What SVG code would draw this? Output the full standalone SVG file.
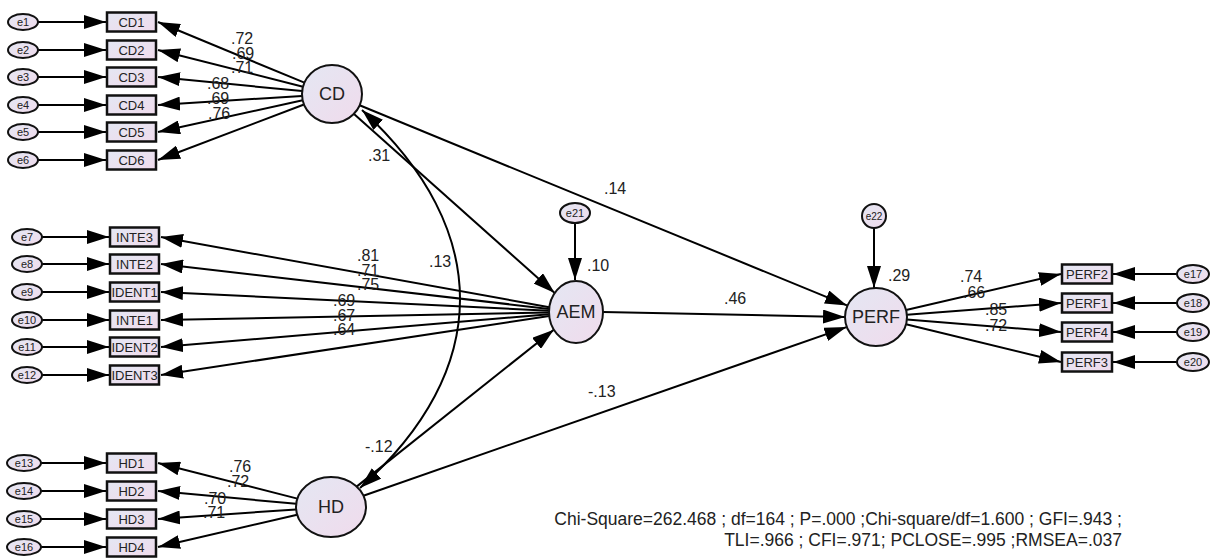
<svg xmlns="http://www.w3.org/2000/svg" width="1230" height="560" viewBox="0 0 1230 560">
<defs>
<linearGradient id="g" x1="0" y1="0" x2="1" y2="1">
<stop offset="0" stop-color="#e4e7f3"/>
<stop offset="1" stop-color="#f0dbec"/>
</linearGradient>
<marker id="ah" markerUnits="userSpaceOnUse" markerWidth="22" markerHeight="14" refX="22" refY="7" orient="auto-start-reverse">
<path d="M0,0 L22,7 L0,14 z" fill="#000"/>
</marker>
</defs>
<style>
.c line,.c path{stroke:#000;stroke-width:2;fill:none;marker-end:url(#ah)}
.c path.cov{marker-start:url(#ah)}
.lat{fill:url(#g);stroke:#111;stroke-width:2}
.err{fill:url(#g);stroke:#111;stroke-width:2}
.box{fill:url(#g);stroke:#111;stroke-width:2.5}
text{font-family:"Liberation Sans",Arial,sans-serif;fill:#222}
.lt{font-size:18px;text-anchor:middle;dominant-baseline:central}
.bt{font-size:13px;text-anchor:middle;dominant-baseline:central}
.et{font-size:11px;text-anchor:middle;dominant-baseline:central}
.lb{font-size:16px}
.fit{font-size:17.5px;text-anchor:end}
</style>
<rect width="1230" height="560" fill="#fff"/>

<g class="c" id="connectors">
<line x1="38" y1="22" x2="106" y2="22"/>
<line x1="38" y1="50" x2="106" y2="50"/>
<line x1="38" y1="77" x2="106" y2="77"/>
<line x1="38" y1="105" x2="106" y2="105"/>
<line x1="38" y1="132" x2="106" y2="132"/>
<line x1="38" y1="160" x2="106" y2="160"/>
<line x1="304.4" y1="82.7" x2="158" y2="22"/>
<line x1="303" y1="86.7" x2="158" y2="50"/>
<line x1="302.1" y1="91.1" x2="158" y2="77"/>
<line x1="302" y1="95.9" x2="158" y2="105"/>
<line x1="302.7" y1="100.3" x2="158" y2="132"/>
<line x1="304" y1="104.5" x2="158" y2="160"/>
<line x1="42" y1="237" x2="109" y2="237"/>
<line x1="42" y1="264" x2="109" y2="264"/>
<line x1="42" y1="292" x2="109" y2="292"/>
<line x1="42" y1="320" x2="109" y2="320"/>
<line x1="42" y1="347" x2="109" y2="347"/>
<line x1="42" y1="375" x2="109" y2="375"/>
<line x1="549.3" y1="307.2" x2="161" y2="237"/>
<line x1="549.1" y1="308.9" x2="161" y2="264"/>
<line x1="549" y1="310.7" x2="161" y2="292"/>
<line x1="549" y1="312.5" x2="161" y2="320"/>
<line x1="549.1" y1="314.3" x2="161" y2="347"/>
<line x1="549.2" y1="316" x2="161" y2="375"/>
<line x1="41" y1="463" x2="106" y2="463"/>
<line x1="41" y1="491" x2="106" y2="491"/>
<line x1="41" y1="519" x2="106" y2="519"/>
<line x1="41" y1="547" x2="106" y2="547"/>
<line x1="297.4" y1="498.6" x2="158" y2="463"/>
<line x1="296.2" y1="503.8" x2="158" y2="491"/>
<line x1="296.1" y1="509.4" x2="158" y2="519"/>
<line x1="297.2" y1="514.7" x2="158" y2="547"/>
<line x1="906.1" y1="310" x2="1061" y2="274"/>
<line x1="906.9" y1="314.7" x2="1061" y2="303"/>
<line x1="906.9" y1="319.5" x2="1061" y2="332"/>
<line x1="906" y1="324.3" x2="1061" y2="362"/>
<line x1="1177" y1="274" x2="1113" y2="274"/>
<line x1="1177" y1="303" x2="1113" y2="303"/>
<line x1="1177" y1="332" x2="1113" y2="332"/>
<line x1="1177" y1="362" x2="1113" y2="362"/>
<line x1="575" y1="223" x2="575" y2="280"/>
<line x1="874" y1="228" x2="874" y2="288"/>
<line x1="354" y1="114" x2="554.7" y2="293"/>
<line x1="359.6" y1="105.3" x2="847" y2="305.4"/>
<line x1="603" y1="312" x2="845" y2="317"/>
<line x1="356.6" y1="486.6" x2="553.8" y2="329.7"/>
<line x1="363.4" y1="495.7" x2="846.5" y2="327.1"/>
<path class="cov" d="M362,110 C493,230 493,370 360,488"/>
</g>

<g id="CD"><ellipse class="lat" cx="332" cy="94" rx="30" ry="29"/><text class="lt" x="332" y="94">CD</text></g>
<g id="AEM"><ellipse class="lat" cx="576" cy="312" rx="27" ry="31"/><text class="lt" x="576" y="312">AEM</text></g>
<g id="HD"><ellipse class="lat" cx="331" cy="507" rx="35" ry="30"/><text class="lt" x="331" y="507">HD</text></g>
<g id="PERF"><ellipse class="lat" cx="876" cy="317" rx="31" ry="29"/><text class="lt" x="876" y="317">PERF</text></g>
<g id="e21"><ellipse class="err" cx="575" cy="213" rx="15" ry="10"/><text class="et" x="575" y="213">e21</text></g>
<g id="e22"><ellipse class="err" cx="874" cy="216" rx="12" ry="12"/><text class="et" x="874" y="216" style="font-size:10px">e22</text></g>

<g id="CD1"><rect class="box" x="107" y="12.5" width="49" height="19"/><text class="bt" x="131.5" y="22">CD1</text></g>
<g id="CD2"><rect class="box" x="107" y="40.5" width="49" height="19"/><text class="bt" x="131.5" y="50">CD2</text></g>
<g id="CD3"><rect class="box" x="107" y="67.5" width="49" height="19"/><text class="bt" x="131.5" y="77">CD3</text></g>
<g id="CD4"><rect class="box" x="107" y="95.5" width="49" height="19"/><text class="bt" x="131.5" y="105">CD4</text></g>
<g id="CD5"><rect class="box" x="107" y="122.5" width="49" height="19"/><text class="bt" x="131.5" y="132">CD5</text></g>
<g id="CD6"><rect class="box" x="107" y="150.5" width="49" height="19"/><text class="bt" x="131.5" y="160">CD6</text></g>

<g id="e1"><ellipse class="err" cx="23" cy="22" rx="15" ry="8"/><text class="et" x="23" y="22">e1</text></g>
<g id="e2"><ellipse class="err" cx="23" cy="50" rx="15" ry="8"/><text class="et" x="23" y="50">e2</text></g>
<g id="e3"><ellipse class="err" cx="23" cy="77" rx="15" ry="8"/><text class="et" x="23" y="77">e3</text></g>
<g id="e4"><ellipse class="err" cx="23" cy="105" rx="15" ry="8"/><text class="et" x="23" y="105">e4</text></g>
<g id="e5"><ellipse class="err" cx="23" cy="132" rx="15" ry="8"/><text class="et" x="23" y="132">e5</text></g>
<g id="e6"><ellipse class="err" cx="23" cy="160" rx="15" ry="8"/><text class="et" x="23" y="160">e6</text></g>

<g id="INTE3"><rect class="box" x="110" y="227.5" width="49" height="19"/><text class="bt" x="134.5" y="237">INTE3</text></g>
<g id="INTE2"><rect class="box" x="110" y="254.5" width="49" height="19"/><text class="bt" x="134.5" y="264">INTE2</text></g>
<g id="IDENT1"><rect class="box" x="110" y="282.5" width="49" height="19"/><text class="bt" x="134.5" y="292">IDENT1</text></g>
<g id="INTE1"><rect class="box" x="110" y="310.5" width="49" height="19"/><text class="bt" x="134.5" y="320">INTE1</text></g>
<g id="IDENT2"><rect class="box" x="110" y="337.5" width="49" height="19"/><text class="bt" x="134.5" y="347">IDENT2</text></g>
<g id="IDENT3"><rect class="box" x="110" y="365.5" width="49" height="19"/><text class="bt" x="134.5" y="375">IDENT3</text></g>

<g id="e7"><ellipse class="err" cx="27" cy="237" rx="15" ry="8"/><text class="et" x="27" y="237">e7</text></g>
<g id="e8"><ellipse class="err" cx="27" cy="264" rx="15" ry="8"/><text class="et" x="27" y="264">e8</text></g>
<g id="e9"><ellipse class="err" cx="27" cy="292" rx="15" ry="8"/><text class="et" x="27" y="292">e9</text></g>
<g id="e10"><ellipse class="err" cx="27" cy="320" rx="15" ry="8"/><text class="et" x="27" y="320">e10</text></g>
<g id="e11"><ellipse class="err" cx="27" cy="347" rx="15" ry="8"/><text class="et" x="27" y="347">e11</text></g>
<g id="e12"><ellipse class="err" cx="27" cy="375" rx="15" ry="8"/><text class="et" x="27" y="375">e12</text></g>

<g id="HD1"><rect class="box" x="107" y="453.5" width="49" height="19"/><text class="bt" x="131.5" y="463">HD1</text></g>
<g id="HD2"><rect class="box" x="107" y="481.5" width="49" height="19"/><text class="bt" x="131.5" y="491">HD2</text></g>
<g id="HD3"><rect class="box" x="107" y="509.5" width="49" height="19"/><text class="bt" x="131.5" y="519">HD3</text></g>
<g id="HD4"><rect class="box" x="107" y="537.5" width="49" height="19"/><text class="bt" x="131.5" y="547">HD4</text></g>

<g id="e13"><ellipse class="err" cx="24" cy="463" rx="17" ry="8"/><text class="et" x="24" y="463">e13</text></g>
<g id="e14"><ellipse class="err" cx="24" cy="491" rx="17" ry="8"/><text class="et" x="24" y="491">e14</text></g>
<g id="e15"><ellipse class="err" cx="24" cy="519" rx="17" ry="8"/><text class="et" x="24" y="519">e15</text></g>
<g id="e16"><ellipse class="err" cx="24" cy="547" rx="17" ry="8"/><text class="et" x="24" y="547">e16</text></g>

<g id="PERF2"><rect class="box" x="1062" y="264.5" width="50" height="19"/><text class="bt" x="1087" y="274">PERF2</text></g>
<g id="PERF1"><rect class="box" x="1062" y="293.5" width="50" height="19"/><text class="bt" x="1087" y="303">PERF1</text></g>
<g id="PERF4"><rect class="box" x="1062" y="322.5" width="50" height="19"/><text class="bt" x="1087" y="332">PERF4</text></g>
<g id="PERF3"><rect class="box" x="1062" y="352.5" width="50" height="19"/><text class="bt" x="1087" y="362">PERF3</text></g>

<g id="e17"><ellipse class="err" cx="1193" cy="274" rx="16" ry="9"/><text class="et" x="1193" y="274">e17</text></g>
<g id="e18"><ellipse class="err" cx="1193" cy="303" rx="16" ry="9"/><text class="et" x="1193" y="303">e18</text></g>
<g id="e19"><ellipse class="err" cx="1193" cy="332" rx="16" ry="9"/><text class="et" x="1193" y="332">e19</text></g>
<g id="e20"><ellipse class="err" cx="1193" cy="362" rx="16" ry="9"/><text class="et" x="1193" y="362">e20</text></g>

<g id="labels">
<text class="lb" x="231" y="44">.72</text>
<text class="lb" x="232" y="59">.69</text>
<text class="lb" x="231" y="73">.71</text>
<text class="lb" x="207" y="89">.68</text>
<text class="lb" x="207" y="104">.69</text>
<text class="lb" x="208" y="119">.76</text>
<text class="lb" x="357" y="261">.81</text>
<text class="lb" x="357" y="276">.71</text>
<text class="lb" x="357" y="290">.75</text>
<text class="lb" x="333" y="306">.69</text>
<text class="lb" x="333" y="321">.67</text>
<text class="lb" x="333" y="335">.64</text>
<text class="lb" x="229" y="472">.76</text>
<text class="lb" x="227" y="487">.72</text>
<text class="lb" x="204" y="504">.70</text>
<text class="lb" x="203" y="518">.71</text>
<text class="lb" x="960" y="282">.74</text>
<text class="lb" x="963" y="298">.66</text>
<text class="lb" x="985" y="315">.85</text>
<text class="lb" x="985" y="331">.72</text>
<text class="lb" x="368" y="161">.31</text>
<text class="lb" x="604" y="194">.14</text>
<text class="lb" x="429" y="267">.13</text>
<text class="lb" x="587" y="271">.10</text>
<text class="lb" x="724" y="304">.46</text>
<text class="lb" x="588" y="397">-.13</text>
<text class="lb" x="365" y="452">-.12</text>
<text class="lb" x="888" y="281">.29</text>
<text class="fit" x="1122" y="525">Chi-Square=262.468 ; df=164 ; P=.000 ;Chi-square/df=1.600 ; GFI=.943 ;</text>
<text class="fit" x="1122" y="546">TLI=.966 ; CFI=.971; PCLOSE=.995 ;RMSEA=.037</text>
</g>
</svg>
